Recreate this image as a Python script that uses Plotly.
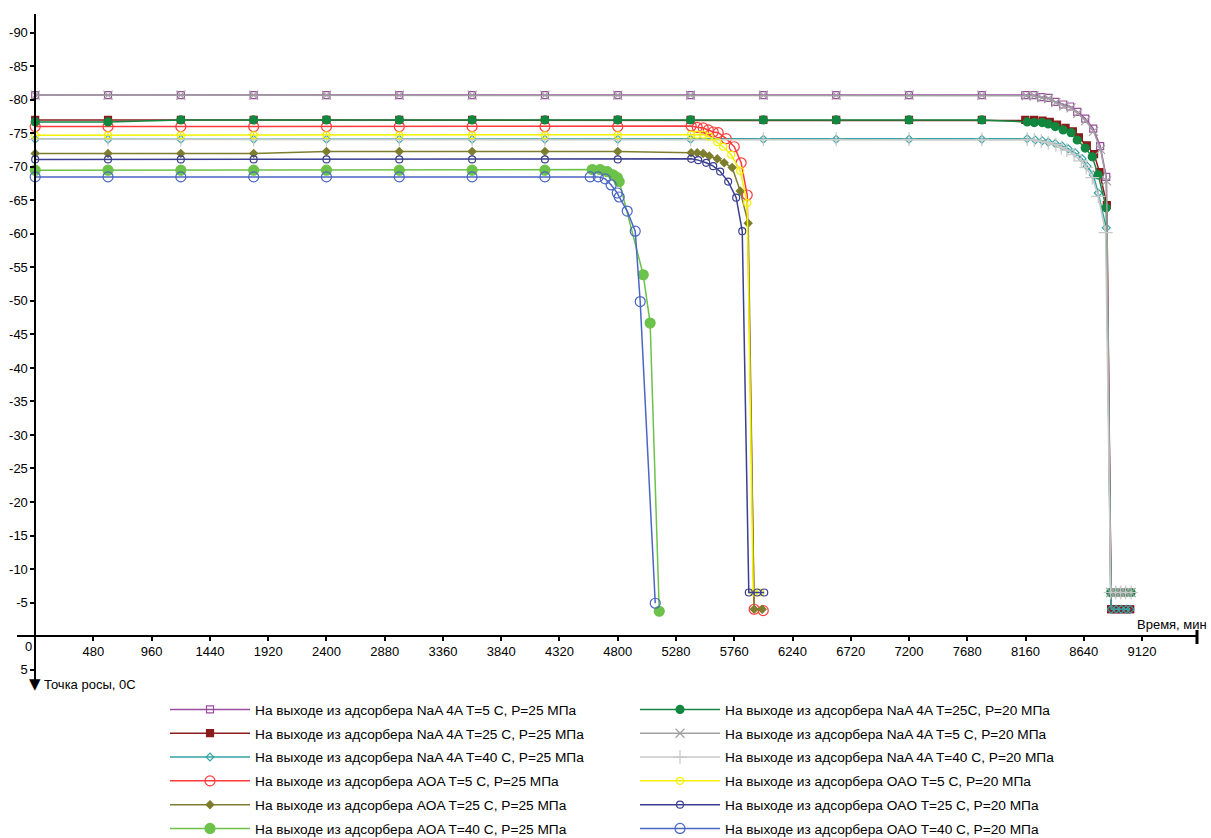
import plotly.graph_objects as go

# ---------------- data ----------------
names_left = [
    "На выходе из адсорбера NaA 4A T=5 C, P=25 МПа",
    "На выходе из адсорбера NaA 4A T=25 C, P=25 МПа",
    "На выходе из адсорбера NaA 4A T=40 C, P=25 МПа",
    "На выходе из адсорбера AOA T=5 C, P=25 МПа",
    "На выходе из адсорбера AOA T=25 C, P=25 МПа",
    "На выходе из адсорбера AOA T=40 C, P=25 МПа",
]
names_right = [
    "На выходе из адсорбера NaA 4A T=25C, P=20 МПа",
    "На выходе из адсорбера NaA 4A T=5 C, P=20 МПа",
    "На выходе из адсорбера NaA 4A T=40 C, P=20 МПа",
    "На выходе из адсорбера OAO T=5 C, P=20 МПа",
    "На выходе из адсорбера OAO T=25 C, P=20 МПа",
    "На выходе из адсорбера OAO T=40 C, P=20 МПа",
]

flat78 = [0, 600, 1200, 1800, 2400, 3000, 3600, 4200, 4800, 5400, 6000, 6600, 7200, 7800]
flat48 = [0, 600, 1200, 1800, 2400, 3000, 3600, 4200, 4800]
flat42 = [0, 600, 1200, 1800, 2400, 3000, 3600, 4200]

# NaA 4A T=5 C, P=25
x_naa5_25 = flat78 + [8158, 8223, 8289, 8347, 8404, 8470, 8528, 8586, 8652, 8718, 8775, 8825,
                      8866, 8907, 8948, 8989, 9022]
y_naa5_25 = [-80.7] * 14 + [-80.7, -80.7, -80.4, -80.3, -79.7, -79.3, -79.0, -78.2, -77.2, -75.7,
                            -73.1, -68.5, -4, -4, -4, -4, -4]
# NaA 4A T=25 C, P=25
x_naa25_25 = flat78 + [8158, 8230, 8300, 8360, 8420, 8490, 8550, 8600, 8665, 8725, 8770, 8830,
                       8866, 8907, 8948, 8989, 9022]
y_naa25_25 = [-77.0] * 14 + [-77.0, -77.0, -76.9, -76.7, -76.3, -75.8, -75.3, -74.4, -73.2, -71.9,
                             -69.2, -64.3, -4, -4, -4, -4, -4]
# NaA 4A T=40 C, P=25
x_naa40_25 = flat78 + [8174, 8240, 8298, 8347, 8405, 8462, 8512, 8569, 8627, 8668, 8718, 8759, 8825,
                       8866, 8907, 8948, 8989, 9022]
y_naa40_25 = [-74.1] * 14 + [-74.2, -74.0, -73.9, -73.7, -73.5, -73.1, -72.7, -72.1, -71.2, -70.1,
                             -68.8, -66.1, -60.9, -4, -4, -4, -4, -4]
# AOA T=5 C, P=25
x_aoa5_25 = flat48 + [5405, 5455, 5504, 5546, 5587, 5628, 5694, 5760, 5817, 5867, 5924, 5999]
y_aoa5_25 = [-76.0] * 9 + [-76.1, -75.9, -75.8, -75.5, -75.2, -75.1, -74.2, -73.0, -70.6, -65.8,
                           -4.0, -3.8]
# AOA T=25 C, P=25
x_aoa25_25 = flat48 + [5405, 5455, 5504, 5554, 5620, 5677, 5743, 5809, 5875, 5924, 5990]
y_aoa25_25 = [-72.0, -72.0, -72.0, -72.0, -72.3, -72.3, -72.3, -72.3, -72.3,
              -72.1, -72.1, -72.0, -71.6, -71.2, -70.6, -69.9, -66.4, -61.6, -4.0, -4.0]
# AOA T=40 C, P=25
x_aoa40_25 = flat42 + [4590, 4655, 4713, 4763, 4796, 4812, 5010, 5067, 5142]
y_aoa40_25 = [-69.5] * 8 + [-69.6, -69.6, -69.3, -68.8, -68.4, -67.8, -53.9, -46.7, -3.7]

# NaA 4A T=25C, P=20
x_naa25_20 = flat78 + [8174, 8232, 8298, 8347, 8405, 8470, 8536, 8586, 8652, 8710, 8759, 8825,
                       8862, 8903, 8944, 8985, 9030]
y_naa25_20 = [-76.7, -76.7] + [-77.0] * 12 + [-76.7, -76.6, -76.6, -76.4, -76.0, -75.5, -75.1, -74.0,
                                             -72.8, -71.5, -68.8, -63.9, -6.5, -6.5, -6.5, -6.5, -6.5]
# NaA 4A T=5 C, P=20
x_naa5_20 = flat78 + [8165, 8230, 8295, 8350, 8410, 8475, 8535, 8590, 8655, 8720, 8778, 8828,
                      8862, 8903, 8944, 8985, 9030]
y_naa5_20 = [-80.7] * 14 + [-80.6, -80.6, -80.3, -80.2, -79.6, -79.1, -78.8, -78.0, -76.9, -75.3,
                            -72.6, -67.9, -6.5, -6.5, -6.5, -6.5, -6.5]
# NaA 4A T=40 C, P=20
x_naa40_20 = flat78 + [8174, 8232, 8290, 8347, 8410, 8455, 8500, 8560, 8620, 8660, 8710, 8760, 8820,
                       8862, 8903, 8944, 8985, 9030]
y_naa40_20 = [-74.1] * 14 + [-74.1, -74.0, -73.8, -73.6, -73.3, -72.9, -72.5, -71.8, -70.9, -69.9,
                             -68.4, -65.6, -60.2, -6.5, -6.5, -6.5, -6.5, -6.5]
# OAO T=5 C, P=20
x_oao5_20 = flat48 + [5405, 5455, 5504, 5554, 5620, 5669, 5735, 5809, 5867, 5916, 5974]
y_oao5_20 = [-74.7] * 9 + [-74.8, -74.8, -74.8, -74.5, -73.7, -73.0, -71.8, -69.4, -64.6, -6.5, -6.5]
# OAO T=25 C, P=20
x_oao25_20 = flat48 + [5405, 5463, 5529, 5587, 5644, 5710, 5776, 5826, 5880, 5949, 6007]
y_oao25_20 = [-71.1] * 9 + [-71.2, -71.0, -70.6, -70.1, -69.3, -67.8, -65.4, -60.4, -6.5, -6.5, -6.5]
# OAO T=40 C, P=20
x_oao40_20 = flat42 + [4573, 4639, 4697, 4746, 4796, 4812, 4878, 4944, 4985, 5109]
y_oao40_20 = [-68.5] * 8 + [-68.5, -68.5, -68.2, -67.3, -66.1, -65.5, -63.4, -60.4, -49.9, -4.9]

x_ticks = [480, 960, 1440, 1920, 2400, 2880, 3360, 3840, 4320, 4800, 5280, 5760, 6240,
           6720, 7200, 7680, 8160, 8640, 9120]
y_ticks = [-90, -85, -80, -75, -70, -65, -60, -55, -50, -45, -40, -35, -30, -25, -20,
           -15, -10, -5, 5]
y_ticktext = ["-90", "-85", "-80", "-75", "-70", "-65", "-60", "-55", "-50", "-45", "-40",
              "-35", "-30", "-25", "-20", "-15", "-10", "-5", "5"]

x_range = [-150, 9573]
y_range = [7, -92.8]

# ---------------- styles ----------------
series = [
    # (x, y, name, color, symbol, size, legend)
    (x_naa5_25, y_naa5_25, names_left[0], "#9A4E9E", "square-open", 7, "legend"),
    (x_naa25_25, y_naa25_25, names_left[1], "#8B1C1C", "square", 7, "legend"),
    (x_naa40_25, y_naa40_25, names_left[2], "#35A3A3", "diamond-open", 6, "legend"),
    (x_aoa5_25, y_aoa5_25, names_left[3], "#FF3B3B", "circle-open", 10, "legend"),
    (x_aoa25_25, y_aoa25_25, names_left[4], "#7D7D2E", "diamond", 6, "legend"),
    (x_aoa40_25, y_aoa40_25, names_left[5], "#6CC24A", "circle", 10, "legend"),
    (x_naa25_20, y_naa25_20, names_right[0], "#12873F", "circle", 8, "legend2"),
    (x_naa5_20, y_naa5_20, names_right[1], "#A0A0A0", "x-thin-open", 9, "legend2"),
    (x_naa40_20, y_naa40_20, names_right[2], "#C8C8C8", "cross-thin-open", 10, "legend2"),
    (x_oao5_20, y_oao5_20, names_right[3], "#F2F200", "circle-open", 7, "legend2"),
    (x_oao25_20, y_oao25_20, names_right[4], "#3B3F8F", "circle-open", 7, "legend2"),
    (x_oao40_20, y_oao40_20, names_right[5], "#4A66C4", "circle-open", 10, "legend2"),
]

fig = go.Figure()
for i, (xs, ys, nm, col, sym, sz, lg) in enumerate(series):
    fig.add_trace(go.Scatter(
        x=xs, y=ys, name=nm, mode="lines+markers",
        line=dict(color=col, width=1.5),
        marker=dict(color=col, symbol=sym, size=sz, line=dict(color=col, width=1.2)),
        legend=lg, legendgroup="g%d" % i,
    ))

W, H = 1211, 838
ml, mr, mt, mb = 17, 14, 14, 155
pos_x_axis = (y_range[0] - 0) / (y_range[0] - y_range[1])
pos_y_axis = (0 - x_range[0]) / (x_range[1] - x_range[0])

font = dict(family="Arial, Liberation Sans, sans-serif", size=13, color="black")
legfont = dict(family="Arial, Liberation Sans, sans-serif", size=13.7, color="black")

def py2paper(py):
    return (H - mb - py) / (H - mb - mt)

def px2paper(px):
    return (px - ml) / (W - ml - mr)

fig.update_layout(
    width=W, height=H,
    margin=dict(l=ml, r=mr, t=mt, b=mb, autoexpand=False),
    paper_bgcolor="white", plot_bgcolor="white",
    font=font,
    xaxis=dict(range=x_range, anchor="free", position=pos_x_axis, automargin=False,
               showline=True, linecolor="black", linewidth=1.5,
               showgrid=False, zeroline=False,
               tickmode="array", tickvals=x_ticks,
               ticks="outside", ticklen=4, tickcolor="black", tickwidth=1.5,
               tickfont=font),
    yaxis=dict(range=y_range, anchor="free", position=pos_y_axis, automargin=False,
               showline=True, linecolor="black", linewidth=1.5,
               showgrid=False, zeroline=False,
               tickmode="array", tickvals=y_ticks, ticktext=y_ticktext,
               ticks="outside", ticklen=4, tickcolor="black", tickwidth=1.5,
               tickfont=font),
    legend=dict(x=px2paper(165), y=py2paper(694), xanchor="left", yanchor="top",
                bgcolor="rgba(0,0,0,0)", font=legfont, itemwidth=80,
                tracegroupgap=3, traceorder="grouped"),
    legend2=dict(x=px2paper(635), y=py2paper(694), xanchor="left", yanchor="top",
                 bgcolor="rgba(0,0,0,0)", font=legfont, itemwidth=80,
                 tracegroupgap=3, traceorder="grouped"),
    showlegend=True,
)

fig.add_annotation(x=0, y=0, xref="x", yref="y", text="0", showarrow=False,
                   xanchor="right", yanchor="top", xshift=-1, yshift=-1, font=font)
fig.add_annotation(x=px2paper(1209), y=py2paper(624), xref="paper", yref="paper",
                   text="Время, мин", showarrow=False, xanchor="right", yanchor="middle",
                   font=font)
fig.add_annotation(x=px2paper(35), y=py2paper(684), xref="paper", yref="paper",
                   text="▼", showarrow=False, xanchor="center", yanchor="middle",
                   font=dict(family="DejaVu Sans", size=15, color="black"))
fig.add_annotation(x=px2paper(42), y=py2paper(684), xref="paper", yref="paper",
                   text="Точка росы, 0С", showarrow=False, xanchor="left", yanchor="middle",
                   font=font)
fig.add_shape(type="line", xref="paper", yref="paper",
              x0=1, x1=1, y0=py2paper(630), y1=py2paper(644),
              line=dict(color="black", width=3))

fig.write_html(
    "out.html",
    config={"displayModeBar": False},
    post_script="document.body.style.margin='0';document.body.style.overflow='hidden';",
)
